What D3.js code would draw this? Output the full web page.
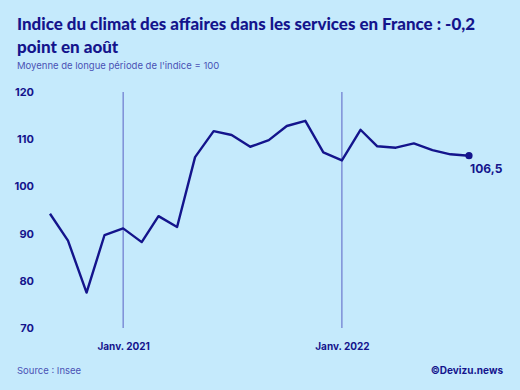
<!DOCTYPE html>
<html>
<head>
<meta charset="utf-8">
<script src="https://cdn.jsdelivr.net/npm/d3@7"></script>
<style>
  html, body { margin: 0; padding: 0; background: #c5eafc; }
  svg { display: block; font-family: Inter, "DejaVu Sans", sans-serif; }
</style>
</head>
<body>
<div id="chart"></div>
<script>
const W = 520, H = 390;
const NAVY = "#14148c", SOFT = "#4a52b5", GRID = "#5b62c4";

// Indice mensuel, sept. 2020 -> août 2022
const months = ["2020-09", "2020-10", "2020-11", "2020-12",
    "2021-01", "2021-02", "2021-03", "2021-04", "2021-05", "2021-06",
    "2021-07", "2021-08", "2021-09", "2021-10", "2021-11", "2021-12",
    "2022-01", "2022-02", "2022-03", "2022-04", "2022-05", "2022-06",
    "2022-07", "2022-08"];
const values = [94.2, 88.5, 77.5, 89.7, 91.1, 88.2, 93.7, 91.4, 106.2, 111.7,
    110.9, 108.4, 109.8, 112.8, 113.9, 107.2, 105.5, 112.0, 108.5, 108.2,
    109.1, 107.7, 106.8, 106.5];
const yTicks = [70, 80, 90, 100, 110, 120];
const xMarks = ["2021-01", "2022-01"];
const xLabels = ["Janv. 2021", "Janv. 2022"];

const parse = d3.timeParse("%Y-%m");
const data = months.map((m, i) => ({ date: parse(m), value: values[i] }));

const x = d3.scaleTime()
    .domain(d3.extent(data, d => d.date))
    .range([50, 469]);
const y = d3.scaleLinear().domain([70, 120]).range([328, 92]);

const svg = d3.select("#chart").append("svg")
    .attr("width", W).attr("height", H)
    .attr("viewBox", `0 0 ${W} ${H}`);

svg.append("rect").attr("width", W).attr("height", H).attr("fill", "#c5eafc");

// titre — police plus étroite pour tenir sur la largeur
const title = svg.append("text")
    .attr("x", 17).attr("y", 30)
    .attr("fill", NAVY)
    .style("font-family", "Lato, Inter, sans-serif")
    .style("font-size", "17px").style("font-weight", 900);
title.append("tspan").attr("x", 17)
    .attr("textLength", 458).attr("lengthAdjust", "spacingAndGlyphs")
    .text("Indice du climat des affaires dans les services en France : -0,2");
title.append("tspan").attr("x", 17).attr("dy", 23).text("point en août");

svg.append("text")
    .attr("x", 17).attr("y", 69)
    .attr("fill", SOFT)
    .style("font-size", "9.5px")
    .text("Moyenne de longue période de l'indice = 100");

// axe y (labels seuls)
svg.append("g")
    .attr("transform", "translate(34,0)")
    .call(d3.axisLeft(y).tickValues(yTicks).tickSize(0).tickPadding(0))
    .call(g => g.select(".domain").remove())
    .call(g => g.selectAll("text")
        .attr("fill", NAVY)
        .style("font-family", "Inter, sans-serif")
        .style("font-size", "11px").style("font-weight", 700));

// repères janvier
const xm = xMarks.map(parse);
svg.append("g").selectAll("line")
    .data(xm).join("line")
    .attr("x1", d => x(d)).attr("x2", d => x(d))
    .attr("y1", y(120)).attr("y2", y(70))
    .attr("stroke", GRID).attr("stroke-width", 1);

svg.append("g")
    .attr("transform", `translate(0,${y(70)})`)
    .call(d3.axisBottom(x).tickValues(xm)
        .tickFormat((d, i) => xLabels[i]).tickSize(0).tickPadding(15))
    .call(g => g.select(".domain").remove())
    .call(g => g.selectAll("text")
        .attr("fill", NAVY)
        .style("font-family", "Inter, sans-serif")
        .style("font-size", "10px").style("font-weight", 700));

// courbe
svg.append("path")
    .datum(data)
    .attr("fill", "none")
    .attr("stroke", NAVY)
    .attr("stroke-width", 2.4)
    .attr("stroke-linejoin", "round")
    .attr("d", d3.line().x(d => x(d.date)).y(d => y(d.value)));

const last = data[data.length - 1];
svg.append("circle")
    .attr("cx", x(last.date)).attr("cy", y(last.value))
    .attr("r", 3.6).attr("fill", NAVY);
svg.append("text")
    .attr("x", x(last.date) + 1).attr("y", y(last.value) + 17)
    .attr("fill", NAVY)
    .style("font-size", "12px").style("font-weight", 700)
    .text(d3.format(".1f")(last.value).replace(".", ","));

// pied
svg.append("text")
    .attr("x", 17).attr("y", 374)
    .attr("fill", SOFT)
    .style("font-size", "9.5px")
    .text("Source : Insee");
svg.append("text")
    .attr("x", 503).attr("y", 374)
    .attr("text-anchor", "end")
    .attr("fill", NAVY)
    .style("font-size", "10px").style("font-weight", 700)
    .text("©Devizu.news");
</script>
</body>
</html>
